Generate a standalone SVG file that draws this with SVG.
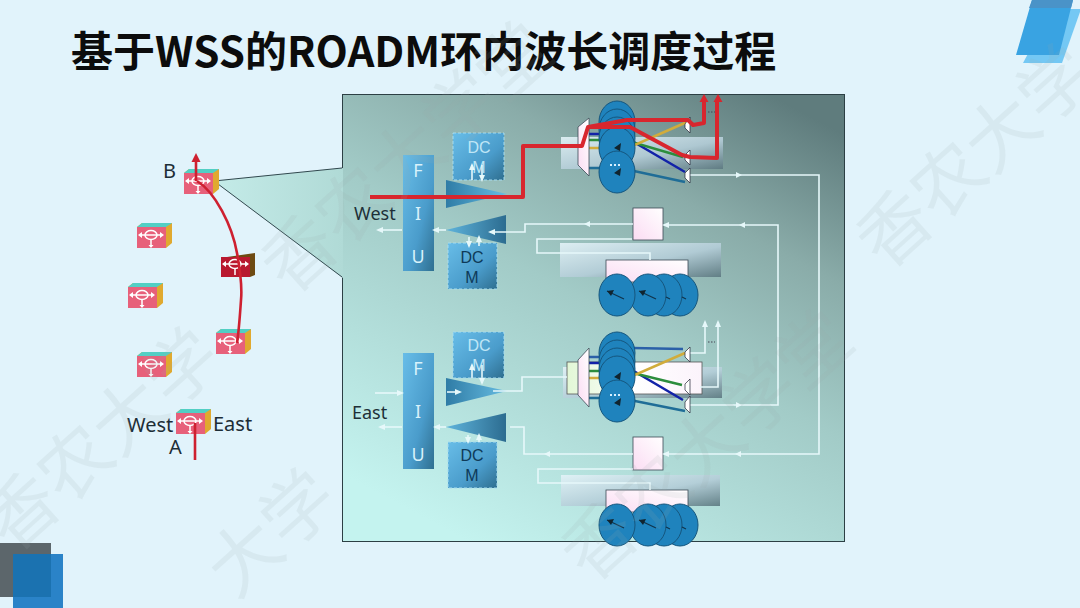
<svg xmlns="http://www.w3.org/2000/svg" xmlns:xlink="http://www.w3.org/1999/xlink" width="1080" height="608" viewBox="0 0 1080 608">
<defs>
<linearGradient id="panel" x1=".85" y1="0" x2=".25" y2="1"><stop offset="0" stop-color="#5f7c7d"/><stop offset=".25" stop-color="#8aaca9"/><stop offset=".5" stop-color="#a2cbc7"/><stop offset="1" stop-color="#c4f3ef"/></linearGradient>
<linearGradient id="fan" x1="0" y1="0" x2="1" y2="0"><stop offset="0" stop-color="#c4ebe8"/><stop offset="1" stop-color="#b0dad6"/></linearGradient>
<linearGradient id="blue" x1="0" y1="0" x2="1" y2="1"><stop offset="0" stop-color="#68bde8"/><stop offset=".6" stop-color="#4a9ccb"/><stop offset="1" stop-color="#2f6f90"/></linearGradient>
<linearGradient id="tri1" x1="0" y1="0" x2="1" y2="0"><stop offset="0" stop-color="#2f7ca6"/><stop offset="1" stop-color="#68bde2"/></linearGradient>
<linearGradient id="tri2" x1="0" y1="0" x2="1" y2="0"><stop offset="0" stop-color="#5fb4dc"/><stop offset="1" stop-color="#2c6c90"/></linearGradient>
<linearGradient id="glass" x1="0" y1="0" x2="1" y2="1"><stop offset="0" stop-color="#e4f3f8"/><stop offset=".55" stop-color="#b4cdd8"/><stop offset="1" stop-color="#5c7880"/></linearGradient>
<linearGradient id="pk" x1="1" y1="0" x2="0" y2="1"><stop offset="0" stop-color="#ffffff"/><stop offset="1" stop-color="#fbdcf3"/></linearGradient>
<linearGradient id="gw" x1="0" y1="0" x2="1" y2="0"><stop offset="0" stop-color="#e2f7d6"/><stop offset=".5" stop-color="#ffffff"/><stop offset="1" stop-color="#fbf3fb"/></linearGradient>
<marker id="wa" markerWidth="7" markerHeight="6" refX="5" refY="3" orient="auto" markerUnits="userSpaceOnUse"><path d="M0 0L7 3L0 6Z" fill="#e6f8fa"/></marker>
<g id="router">
<path d="M0 4L5 0H35V20L29 25H0Z" fill="#e0a92f"/>
<path d="M0 4L5 0H35L29 4Z" fill="#52cfc4"/>
<rect y="4" width="29" height="21" fill="#e7607a"/>
<g fill="none" stroke="#fff" stroke-width="1.500"><ellipse cx="14" cy="12" rx="6" ry="4.500"/><path d="M3 12H25M14 16V23"/></g>
<path d="M1 12l4-3v6zM27 12l-4-3v6zM14 25l-2.500-3h5z" fill="#fff"/>
</g>
<style>
.w{fill:none;stroke:#e6f8fa;stroke-width:1.600}
.r{fill:none;stroke:#d8262e;stroke-width:4;stroke-linejoin:round}
.c{fill:none;stroke:#ce2030;stroke-width:2.600}
.d{fill:#1f83bd;stroke:#15567e;stroke-width:1}
.p{fill:url(#pk);stroke:#3c4a55;stroke-width:.8}
.wd{fill:#fff;stroke:#223;stroke-width:.7}
.n{stroke:#10344c;stroke-width:1.200}
.h{fill:#10242f}
.t{font-family:"Noto Sans","Open Sans","Liberation Sans",sans-serif}
.l{font-size:20px;fill:#1d2d36}
.l2{font-size:18px;fill:#1d3038}
.fiu{font-size:18px;fill:#d8f2fb;text-anchor:middle}
.dc{font-family:"Liberation Sans",Arial,sans-serif;font-size:16px;text-anchor:middle}
.dcm{fill:#bfe6f6}
.dcd{fill:#0e3a58}
.dash{stroke:#a6dcef;stroke-width:1;stroke-dasharray:3 2;fill:url(#blue)}
.wm{font-family:"Noto Sans CJK SC",sans-serif;font-size:72px;fill:#98a8ad;fill-opacity:.13}
.ln{fill:none;stroke-width:2.500}
.dots{stroke-dasharray:1.500 1.500;stroke:#445;fill:none}
</style>
</defs>
<rect width="1080" height="608" fill="#e1f3fb"/>
<g id="corner-tr"><path d="M1052 9H1080V12L1062 63H1023Z" fill="#74c8f4"/><path d="M1032 0H1073L1059 55H1016Z" fill="#39a3e2"/><path d="M1032 0H1073L1071 8H1029Z" fill="#4a93c8"/></g>
<g id="corner-bl"><rect y="543" width="51" height="54" fill="#5c666b"/><rect x="13" y="554" width="50" height="54" fill="#2a83c8"/><rect x="13" y="554" width="38" height="43" fill="#1b72b0"/></g>
<text x="71" y="67" font-size="42" font-weight="700" fill="#0c0c0c" style="font-family:'Noto Sans CJK SC','Noto Sans',sans-serif">基于WSS的ROADM环内波长调度过程</text>
<rect id="panel-box" x="342.500" y="94.500" width="502" height="447" fill="url(#panel)" stroke="#2c3f44" stroke-width="1"/>
<path id="fan-shape" d="M214 181L343 168V278Z" fill="url(#fan)"/>
<path d="M214 181L342 168M214 181L342 277" stroke="#30474d" stroke-width="1" fill="none"/>
<g id="nodes-left">
<use id="n-b" xlink:href="#router" href="#router" x="184" y="169"/>
<use id="n-1" xlink:href="#router" href="#router" x="137" y="223"/>
<use id="n-2" xlink:href="#router" href="#router" x="128" y="283"/>
<use id="n-3" xlink:href="#router" href="#router" x="137" y="352"/>
<use id="n-a" xlink:href="#router" href="#router" x="176" y="409"/>
<use id="n-4" xlink:href="#router" href="#router" x="216" y="329"/>
<g id="n-dark"><path d="M221 257L227 257L255 253V275L250 277H221Z" fill="#6d4a12"/><rect x="221" y="257" width="29" height="20" fill="#b8182f"/><g fill="none" stroke="#fff" stroke-width="1.500"><ellipse cx="235" cy="264" rx="6" ry="4.500"/><path d="M225 264H247M235 268V275"/></g><path d="M222 264l4-3v6zM249 264l-4-3v6z" fill="#fff"/></g>
</g>
<g id="left-connectors">
<path class="c" d="M195 460V423"/>
<path class="c" d="M196 181V160"/>
<path d="M196 153l-4.500 9h9z" fill="#ce2030"/>
<path class="c" d="M197 181C215 192 232 225 237 253C241 275 242 290 241 300C240 315 239 330 237 343"/>
</g>
<text class="t l" x="163" y="178">B</text><text class="t l" x="127" y="432">West</text><text class="t l" x="213" y="431">East</text><text class="t l" x="169" y="454">A</text>
<g id="fiu-west"><rect x="403" y="155" width="31" height="116" fill="url(#blue)"/><text class="t fiu" x="418" y="177">F</text><text class="t fiu" x="418" y="220">I</text><text class="t fiu" x="418" y="263">U</text></g>
<g id="fiu-east"><rect x="403" y="353" width="31" height="116" fill="url(#blue)"/><text class="t fiu" x="418" y="375">F</text><text class="t fiu" x="418" y="418">I</text><text class="t fiu" x="418" y="461">U</text></g>
<g id="dcm-w1"><rect class="dash" x="453" y="133" width="51" height="47"/><text class="dc dcm" x="479" y="153">DC</text><text class="dc dcm" x="479" y="173">M</text></g>
<g id="dcm-w2"><rect class="dash" x="448" y="243" width="49" height="46"/><text class="dc dcd" x="472" y="263">DC</text><text class="dc dcd" x="472" y="283">M</text></g>
<g id="dcm-e1"><rect class="dash" x="453" y="332" width="51" height="46"/><text class="dc dcm" x="479" y="351">DC</text><text class="dc dcm" x="479" y="371">M</text></g>
<g id="dcm-e2"><rect class="dash" x="448" y="442" width="49" height="46"/><text class="dc dcd" x="472" y="461">DC</text><text class="dc dcd" x="472" y="481">M</text></g>
<path id="amp-w1" d="M446 180L507 194L446 208Z" fill="url(#tri1)"/>
<path id="amp-w2" d="M446 230L506 215V244Z" fill="url(#tri2)"/>
<path id="amp-e1" d="M446 378L507 391L446 406Z" fill="url(#tri1)"/>
<path id="amp-e2" d="M446 427L506 413V442Z" fill="url(#tri2)"/>
<text class="t l2" x="354" y="220">West</text><text class="t l2" x="352" y="419">East</text>
<g id="bars">
<rect x="561" y="137" width="162" height="32" fill="url(#glass)" opacity=".9"/>
<rect x="560" y="243" width="161" height="34" fill="url(#glass)" opacity=".9"/>
<rect x="563" y="367" width="159" height="31" fill="url(#glass)" opacity=".9"/>
<rect x="561" y="475" width="159" height="31" fill="url(#glass)" opacity=".9"/>
<rect x="567" y="362" width="135" height="32" fill="url(#gw)" stroke="#555" stroke-width=".8"/>
<rect class="p" x="606" y="260" width="82" height="22"/>
<rect class="p" x="606" y="490" width="82" height="22"/>
<rect class="p" x="633" y="208" width="30" height="32"/>
<rect class="p" x="633" y="437" width="30" height="33"/>
</g>
<g id="white-links">
<path class="w" marker-end="url(#wa)" d="M402 230H378"/><path class="w" marker-end="url(#wa)" d="M446 230H434"/>
<path class="w" marker-end="url(#wa)" d="M633 224H525V232H490"/>
<path class="w" d="M632 239H537V253H650V260"/>
<path class="w" marker-end="url(#wa)" d="M690 405H778V225H664"/>
<path class="w" marker-end="url(#wa)" d="M690 175H819V454H664"/>
<path class="w" d="M633 469H538V483H650V490"/>
<path class="w" marker-end="url(#wa)" d="M375 393H402"/><path class="w" marker-end="url(#wa)" d="M447 392H460"/>
<path class="w" d="M493 391H522V377H567"/>
<path class="w" marker-end="url(#wa)" d="M402 427H380"/><path class="w" marker-end="url(#wa)" d="M446 427H435"/>
<path class="w" d="M510 427H524V454H633"/>
<path class="w" marker-end="url(#wa)" d="M690 353H705V322"/><path class="w" marker-end="url(#wa)" d="M700 387H718V322"/>
<path class="w" marker-end="url(#wa)" d="M472 180V165"/><path class="w" marker-end="url(#wa)" d="M482 165V180"/>
<path class="w" marker-end="url(#wa)" d="M469 237V246"/><path class="w" marker-end="url(#wa)" d="M479 246V237"/>
<path class="w" marker-end="url(#wa)" d="M472 378V365"/><path class="w" marker-end="url(#wa)" d="M482 365V383"/>
<path class="w" marker-end="url(#wa)" d="M468 435V442"/><path class="w" marker-end="url(#wa)" d="M479 442V435"/>
<path d="M736 172l6 3-6 3zM745 222l-6 3 6 3zM741 451l-6 3 6 3zM736 402l6 3-6 3zM590 221l-6 3 6 3zM550 451l-6 3 6 3z" fill="#e6f8fa"/>
</g>
<g id="wss-top">
<path class="ln" stroke="#1222a8" d="M589 134H620L685 172"/><path class="ln" stroke="#2c8d3d" d="M589 140H625L683 157"/><path class="ln" stroke="#d1ac3b" d="M589 148H628L687 122"/><path class="ln" stroke="#1f6d97" d="M589 168H620L685 182"/>
<path class="p" d="M578 127L589 118V176L578 165Z"/>
<ellipse class="d" cx="617" cy="122" rx="18" ry="21"/><ellipse class="d" cx="617" cy="130" rx="18" ry="21"/><ellipse class="d" cx="617" cy="138" rx="18" ry="21"/><ellipse class="d" cx="617" cy="148" rx="18" ry="21"/><ellipse class="d" cx="617" cy="172" rx="18" ry="21"/>
<path class="h" d="M621 143l-1 8-6-3zM621 168l-1 8-6-3z"/>
<path d="M610 165h12" stroke="#d6f0ff" stroke-width="2" stroke-dasharray="2 2"/>
<path class="wd" d="M690 117L685 124V128L690 133ZM690 150L685 155V160L690 165ZM690 168L685 173V178L690 183Z"/>
<path class="dots" d="M708 112h7"/>
<path class="r" d="M370 197H523V146H582L588 127L627 120H688L693 125L704 123V100"/>
<path class="r" d="M588 127H630L682 155L690 157L717 158V100"/>
<path d="M704 94l-4.500 8h9zM718 94l-4.500 8h9z" fill="#d8262e"/>
</g>
<g id="wss-bottom">
<path class="ln" stroke="#2b60a8" d="M589 357H620M633 348L683 349"/><path class="ln" stroke="#1222a8" d="M589 363H620L683 400"/><path class="ln" stroke="#2c8d3d" d="M589 371H625L682 385"/><path class="ln" stroke="#d1ac3b" d="M589 378H628L685 353"/><path class="ln" stroke="#1f6d97" d="M589 398H620L685 411"/>
<path class="p" d="M578 360L589 348V407L578 395Z"/>
<ellipse class="d" cx="617" cy="353" rx="18" ry="21"/><ellipse class="d" cx="617" cy="361" rx="18" ry="21"/><ellipse class="d" cx="617" cy="369" rx="18" ry="21"/><ellipse class="d" cx="617" cy="377" rx="18" ry="21"/><ellipse class="d" cx="617" cy="401" rx="18" ry="21"/>
<path class="h" d="M621 372l-1 8-6-3zM621 398l-1 8-6-3z"/>
<path d="M610 395h12" stroke="#d6f0ff" stroke-width="2" stroke-dasharray="2 2"/>
<path class="wd" d="M690 347L685 352V357L690 362ZM690 379L685 384V390L690 395ZM690 396L685 402V408L690 413Z"/>
<path class="dots" d="M708 342h7"/>
</g>
<g id="dials-top"><ellipse class="d" cx="680" cy="295" rx="18" ry="21"/><ellipse class="d" cx="664" cy="295" rx="18" ry="21"/><ellipse class="d" cx="648" cy="295" rx="18" ry="21"/><ellipse class="d" cx="617" cy="295" rx="18" ry="21"/><path class="n" d="M607 291l17 8M639 291l17 8M666 297l4 2M682 297l4 2"/><path class="h" d="M607 291l7-1-3 6zM639 291l7-1-3 6z"/></g>
<g id="dials-bottom"><ellipse class="d" cx="680" cy="525" rx="18" ry="21"/><ellipse class="d" cx="664" cy="525" rx="18" ry="21"/><ellipse class="d" cx="648" cy="525" rx="18" ry="21"/><ellipse class="d" cx="617" cy="525" rx="18" ry="21"/><path class="n" d="M607 520l17 8M639 520l17 8M666 527l4 2M682 527l4 2"/><path class="h" d="M607 520l7-1-3 6zM639 520l7-1-3 6z"/></g>
<g id="watermark">
<text class="wm" transform="translate(885 272) rotate(-42)">香农大学</text>
<text class="wm" transform="translate(290 297) rotate(-42)">香农大学堂</text>
<text class="wm" transform="translate(590 585) rotate(-42)">香农大学堂</text>
<text class="wm" transform="translate(12 555) rotate(-42)">香农大学</text>
<text class="wm" transform="translate(235 600) rotate(-42)">大学</text>
</g>
</svg>
